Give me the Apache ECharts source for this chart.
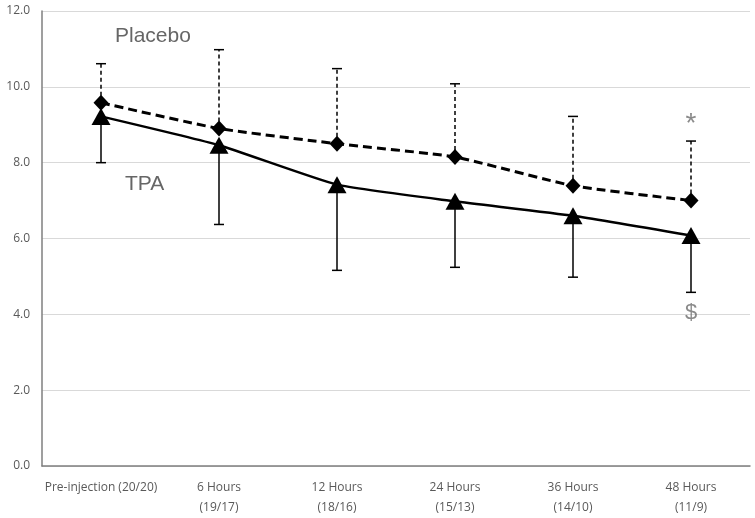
<!DOCTYPE html>
<html>
<head>
<meta charset="utf-8">
<script src="https://cdn.jsdelivr.net/npm/echarts@6/dist/echarts.min.js"></script>
<style>html,body{margin:0;padding:0;background:#fff}#c{width:755px;height:518px}</style>
</head>
<body>
<div id="c"></div>
<script>
const categories = ['Pre-injection (20/20)', '6 Hours\n(19/17)', '12 Hours\n(18/16)', '24 Hours\n(15/13)', '36 Hours\n(14/10)', '48 Hours\n(11/9)'];
const placeboMean = [9.58, 8.9, 8.5, 8.15, 7.39, 7.0];
const placeboUpper = [10.61, 10.98, 10.48, 10.08, 9.22, 8.57];
const tpaMean = [9.22, 8.46, 7.42, 6.98, 6.6, 6.08];
const tpaLower = [8.0, 6.37, 5.16, 5.24, 4.98, 4.58];
const yTicks = [0, 2, 4, 6, 8, 10, 12];
const annotations = [{cat: 5, y: 9.0, text: '*'}, {cat: 5, y: 4.05, text: '$'}];

const chart = echarts.init(document.getElementById('c'));

function errorSeries(mean, end, dashed) {
  return {
    type: 'custom',
    silent: true,
    z: 1,
    data: mean.map((m, i) => [i, m, end[i]]),
    renderItem: function (params, api) {
      const p0 = api.coord([api.value(0), api.value(1)]);
      const p1 = api.coord([api.value(0), api.value(2)]);
      const hw = 5;
      const style = {stroke: '#000', lineWidth: 1.5, lineDash: dashed ? [4, 3] : null};
      return {
        type: 'group',
        children: [
          {type: 'line', shape: {x1: p0[0], y1: p0[1], x2: p1[0], y2: p1[1]}, style: style},
          {type: 'line', shape: {x1: p1[0] - hw, y1: p1[1], x2: p1[0] + hw, y2: p1[1]}, style: {stroke: '#000', lineWidth: 1.5}}
        ]
      };
    }
  };
}

chart.setOption({
  animation: false,
  grid: {left: 42, right: 5, top: 11, bottom: 49},
  xAxis: {
    type: 'category',
    data: categories,
    boundaryGap: true,
    axisLine: {lineStyle: {color: '#7f7f7f', width: 1.5}},
    axisTick: {show: false},
    axisLabel: {color: '#595959', fontSize: 12, fontFamily: 'Open Sans, sans-serif', margin: 12, lineHeight: 20, interval: 0}
  },
  yAxis: {
    type: 'value',
    min: 0, max: 12, interval: 2,
    axisLine: {show: true, lineStyle: {color: '#7f7f7f', width: 1.5}},
    axisTick: {show: false},
    splitLine: {lineStyle: {color: '#d9d9d9', width: 1}},
    axisLabel: {color: '#595959', fontSize: 12, fontFamily: 'Open Sans, sans-serif', margin: 12,
      formatter: v => yTicks.includes(v) ? v.toFixed(1) : ''}
  },
  series: [
    errorSeries(placeboMean, placeboUpper, true),
    errorSeries(tpaMean, tpaLower, false),
    {
      name: 'Placebo', type: 'line', data: placeboMean, smooth: 0.15, z: 3,
      lineStyle: {color: '#000', width: 3, type: [9, 5]},
      symbol: 'diamond', symbolSize: [15, 16], showAllSymbol: true,
      itemStyle: {color: '#000', borderWidth: 0}
    },
    {
      name: 'TPA', type: 'line', data: tpaMean, smooth: 0.15, z: 3,
      lineStyle: {color: '#000', width: 2.5},
      symbol: 'triangle', symbolSize: [19, 17], showAllSymbol: true,
      itemStyle: {color: '#000', borderWidth: 0}
    },
    {
      type: 'scatter', symbol: 'circle', symbolSize: 1, silent: true, z: 5,
      itemStyle: {color: 'rgba(0,0,0,0)'},
      data: annotations.map(a => ({value: [a.cat, a.y], label: {show: true, formatter: a.text, position: 'inside', fontSize: a.text === '*' ? 28 : 22, color: '#6d6d6d', fontFamily: 'Liberation Sans, Arial, sans-serif'}}))
    }
  ],
  graphic: [
    {type: 'text', left: 115, top: 26, style: {text: 'Placebo', fontSize: 21, fill: '#666', fontFamily: 'Liberation Sans, Arial, sans-serif'}},
    {type: 'text', left: 125, top: 174, style: {text: 'TPA', fontSize: 21, fill: '#666', fontFamily: 'Liberation Sans, Arial, sans-serif'}}
  ]
});
</script>
</body>
</html>
